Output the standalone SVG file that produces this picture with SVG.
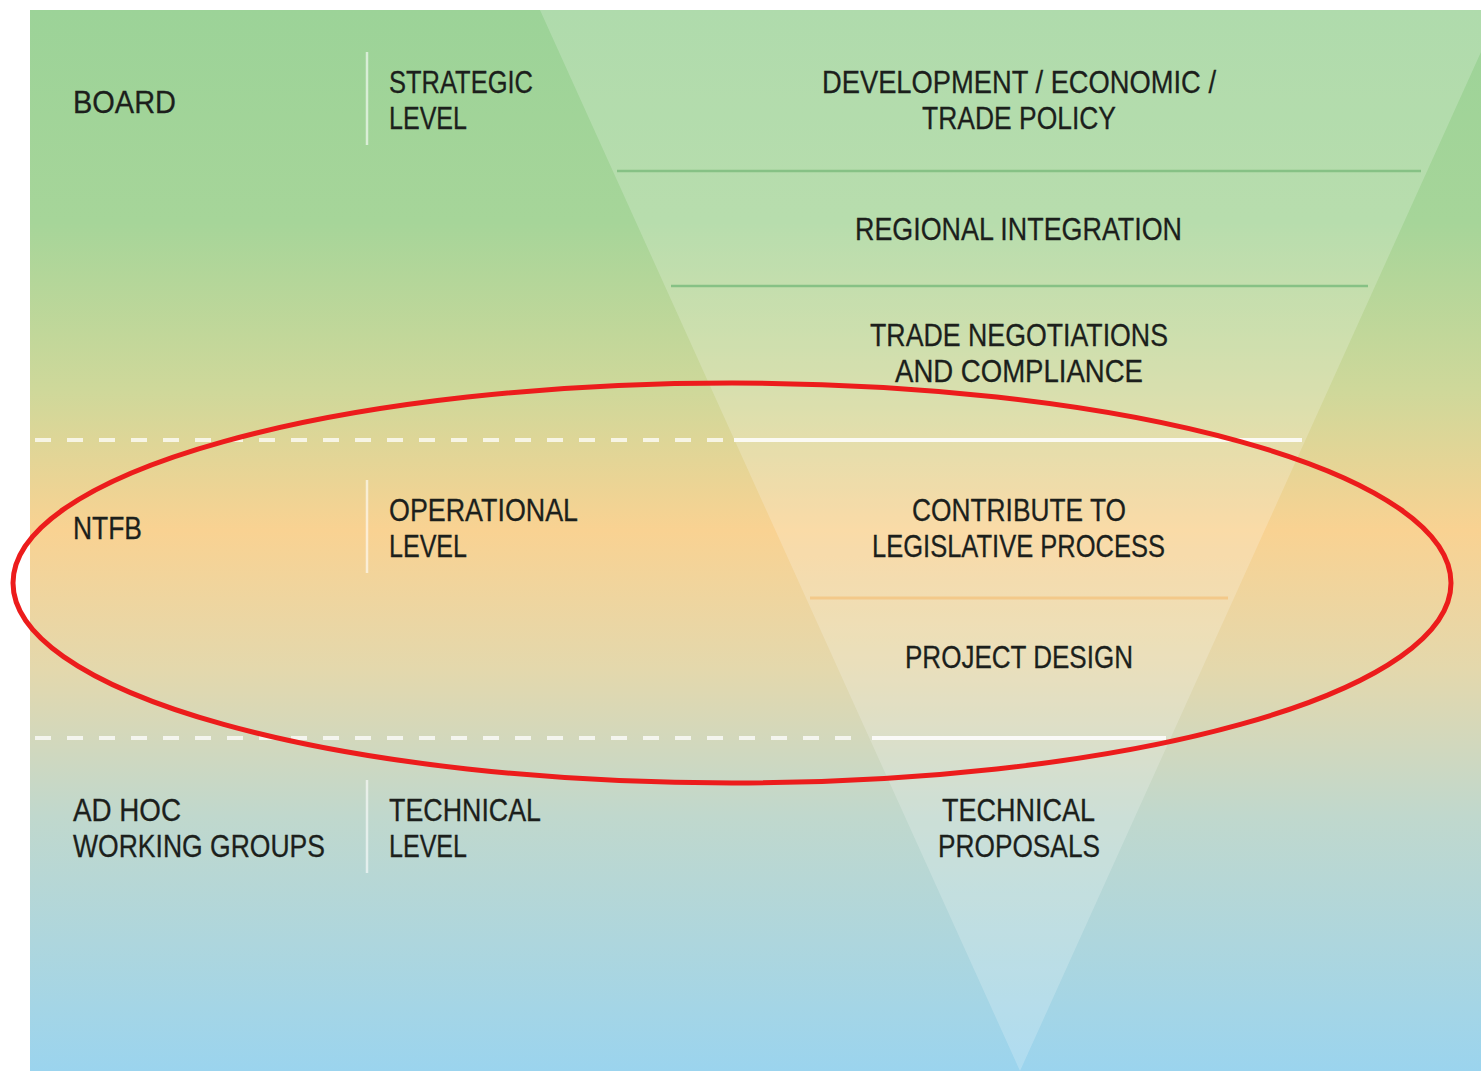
<svg xmlns="http://www.w3.org/2000/svg" width="1481" height="1071" viewBox="0 0 1481 1071">
  <defs>
    <linearGradient id="bg" x1="0" y1="10" x2="0" y2="1071" gradientUnits="userSpaceOnUse">
      <stop offset="0" stop-color="#9cd398"/>
      <stop offset="0.2" stop-color="#a6d599"/>
      <stop offset="0.36" stop-color="#cfd89a"/>
      <stop offset="0.49" stop-color="#f9d292"/>
      <stop offset="0.62" stop-color="#e4d8ac"/>
      <stop offset="0.76" stop-color="#c0d8cd"/>
      <stop offset="1" stop-color="#9bd4ee"/>
    </linearGradient>
    <style>
      .t { font-family: "Liberation Sans", "Open Sans", sans-serif; font-size: 32px; fill: #1c1f1c; stroke: #1c1f1c; stroke-width: 0.3; }
      .vsep { stroke: #ffffff; stroke-opacity: 0.6; stroke-width: 2.5; }
      .dash { stroke: #ffffff; stroke-opacity: 0.75; stroke-width: 4; stroke-dasharray: 16 16; fill: none; }
      .solid { stroke: #ffffff; stroke-opacity: 0.85; stroke-width: 4; }
      .gline { stroke: #86c185; stroke-width: 2.5; }
      .oline { stroke: #f3c98a; stroke-width: 3; }
    </style>
  </defs>
  <rect x="0" y="0" width="1481" height="1071" fill="#ffffff"/>
  <rect id="background" x="30" y="10" width="1451" height="1061" fill="url(#bg)"/>
  <polygon id="funnel" points="540,10 1500,10 1020,1071" fill="#ffffff" fill-opacity="0.2"/>

  <g id="connectors">
    <line class="dash" x1="35" y1="440" x2="728" y2="440"/>
    <line class="solid" x1="734" y1="440" x2="1302" y2="440"/>
    <line class="dash" x1="35" y1="738" x2="866" y2="738"/>
    <line class="solid" x1="872" y1="738" x2="1166" y2="738"/>
    <line class="gline" x1="617" y1="171" x2="1421" y2="171"/>
    <line class="gline" x1="671" y1="286" x2="1368" y2="286"/>
    <line class="oline" x1="810" y1="598" x2="1228" y2="598"/>
    <line class="vsep" x1="367" y1="52" x2="367" y2="145"/>
    <line class="vsep" x1="367" y1="480" x2="367" y2="573"/>
    <line class="vsep" x1="367" y1="780" x2="367" y2="873"/>
  </g>

  <g id="board"><text class="t" x="73" y="113" textLength="103" lengthAdjust="spacingAndGlyphs">BOARD</text></g>
  <g id="strategic-level">
    <text class="t" x="389" y="93" textLength="144" lengthAdjust="spacingAndGlyphs">STRATEGIC</text>
    <text class="t" x="389" y="129" textLength="78" lengthAdjust="spacingAndGlyphs">LEVEL</text>
  </g>
  <g id="development-policy">
    <text class="t" x="822" y="93" textLength="394" lengthAdjust="spacingAndGlyphs">DEVELOPMENT / ECONOMIC /</text>
    <text class="t" x="922" y="129" textLength="194" lengthAdjust="spacingAndGlyphs">TRADE POLICY</text>
  </g>
  <g id="regional-integration">
    <text class="t" x="855" y="240" textLength="327" lengthAdjust="spacingAndGlyphs">REGIONAL INTEGRATION</text>
  </g>
  <g id="trade-negotiations">
    <text class="t" x="870" y="346" textLength="298" lengthAdjust="spacingAndGlyphs">TRADE NEGOTIATIONS</text>
    <text class="t" x="895" y="382" textLength="248" lengthAdjust="spacingAndGlyphs">AND COMPLIANCE</text>
  </g>
  <g id="ntfb"><text class="t" x="73" y="539" textLength="69" lengthAdjust="spacingAndGlyphs">NTFB</text></g>
  <g id="operational-level">
    <text class="t" x="389" y="521" textLength="189" lengthAdjust="spacingAndGlyphs">OPERATIONAL</text>
    <text class="t" x="389" y="557" textLength="78" lengthAdjust="spacingAndGlyphs">LEVEL</text>
  </g>
  <g id="legislative-process">
    <text class="t" x="912" y="521" textLength="214" lengthAdjust="spacingAndGlyphs">CONTRIBUTE TO</text>
    <text class="t" x="872" y="557" textLength="293" lengthAdjust="spacingAndGlyphs">LEGISLATIVE PROCESS</text>
  </g>
  <g id="project-design">
    <text class="t" x="905" y="668" textLength="228" lengthAdjust="spacingAndGlyphs">PROJECT DESIGN</text>
  </g>
  <g id="ad-hoc-working-groups">
    <text class="t" x="73" y="821" textLength="108" lengthAdjust="spacingAndGlyphs">AD HOC</text>
    <text class="t" x="73" y="857" textLength="252" lengthAdjust="spacingAndGlyphs">WORKING GROUPS</text>
  </g>
  <g id="technical-level">
    <text class="t" x="389" y="821" textLength="152" lengthAdjust="spacingAndGlyphs">TECHNICAL</text>
    <text class="t" x="389" y="857" textLength="78" lengthAdjust="spacingAndGlyphs">LEVEL</text>
  </g>
  <g id="technical-proposals">
    <text class="t" x="942" y="821" textLength="153" lengthAdjust="spacingAndGlyphs">TECHNICAL</text>
    <text class="t" x="938" y="857" textLength="162" lengthAdjust="spacingAndGlyphs">PROPOSALS</text>
  </g>

  <g id="highlight">
    <ellipse cx="732" cy="583" rx="719" ry="200" fill="none" stroke="#ec1c1c" stroke-width="5"/>
  </g>
</svg>
